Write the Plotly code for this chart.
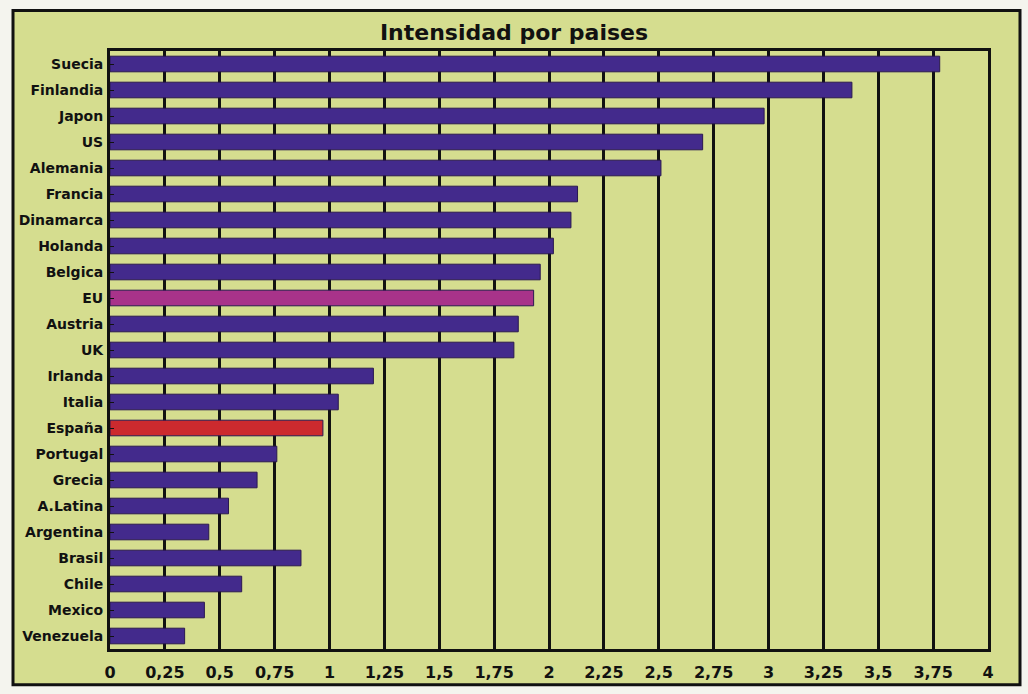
import plotly.graph_objects as go

countries = ["Suecia", "Finlandia", "Japon", "US", "Alemania", "Francia", "Dinamarca",
             "Holanda", "Belgica", "EU", "Austria", "UK", "Irlanda", "Italia", "España",
             "Portugal", "Grecia", "A.Latina", "Argentina", "Brasil", "Chile", "Mexico",
             "Venezuela"]
values = [3.78, 3.38, 2.98, 2.70, 2.51, 2.13, 2.10, 2.02, 1.96, 1.93, 1.86, 1.84,
          1.20, 1.04, 0.97, 0.76, 0.67, 0.54, 0.45, 0.87, 0.60, 0.43, 0.34]
tick_vals = [0, 0.25, 0.5, 0.75, 1, 1.25, 1.5, 1.75, 2, 2.25, 2.5, 2.75, 3, 3.25, 3.5, 3.75, 4]

PURPLE = "#432a8c"
colors = []
for c in countries:
    if c == "EU":
        colors.append("#a8338a")
    elif c == "España":
        colors.append("#cc2a2e")
    else:
        colors.append(PURPLE)

BG = "#d5dd8f"
FONT = "DejaVu Sans, Arial, sans-serif"

fig = go.Figure(go.Bar(
    x=values, y=countries, orientation="h",
    marker=dict(color=colors, line=dict(color="#2a1850", width=1)),
    width=0.6,
))

W, H = 1028, 694
L, R, T, B = 110, 40, 51, 39
pw, ph = W - L - R, H - T - B

def px2x(px):
    return (px - L) / pw

def py2y(py):
    return (H - B - py) / ph

fig.update_layout(
    width=W, height=H,
    margin=dict(l=L, r=R, t=T, b=B),
    paper_bgcolor="#f4f4ee",
    plot_bgcolor=BG,
    separators=",.",
    showlegend=False,
    font=dict(family=FONT, color="#111111"),
    title=dict(text="Intensidad por paises", x=0.5, xanchor="center",
               y=1 - 32 / H, yanchor="middle",
               font=dict(size=22, color="#111111", weight="bold", family=FONT)),
    xaxis=dict(range=[0, 4], tickvals=tick_vals, showgrid=True, gridcolor="#111111",
               gridwidth=2.5, zeroline=False, showline=True, linecolor="#111111",
               linewidth=3, mirror=True, ticks="", fixedrange=True,
               tickfont=dict(size=16, family=FONT, weight="bold"),
               ticklabelstandoff=7),
    yaxis=dict(categoryorder="array", categoryarray=countries, autorange="reversed",
               showgrid=False, showline=True, linecolor="#111111", linewidth=3,
               mirror=True, ticks="inside", ticklen=4, tickcolor="#111111",
               tickfont=dict(size=14, family=FONT, weight="bold"),
               ticklabelstandoff=1),
    shapes=[
        dict(type="rect", xref="paper", yref="paper", layer="below",
             x0=px2x(13), x1=px2x(1020), y0=py2y(691), y1=py2y(10),
             fillcolor=BG, line=dict(color="#111111", width=3)),
    ],
)

fig.write_html("out.html")
